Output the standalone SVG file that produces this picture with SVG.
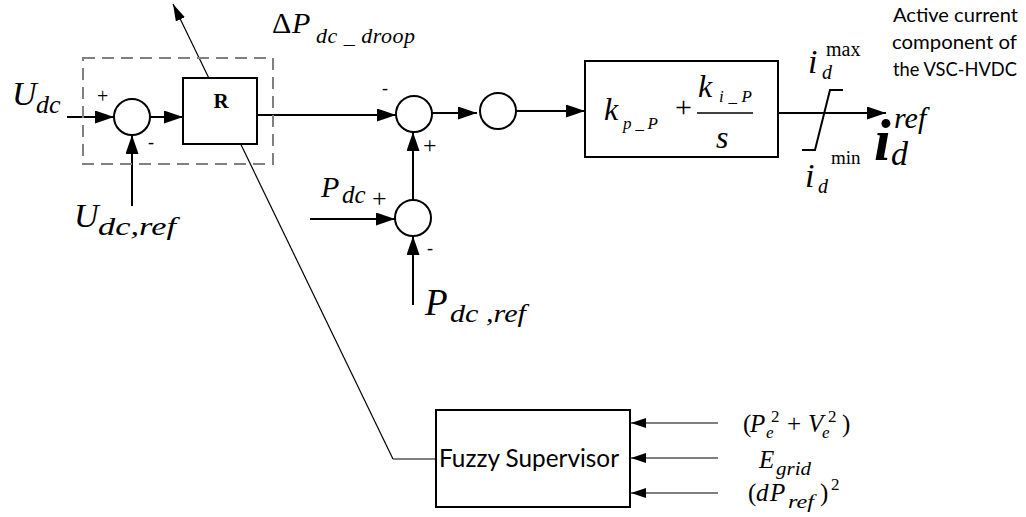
<svg xmlns="http://www.w3.org/2000/svg" width="1026" height="517" viewBox="0 0 1026 517">
<style>
.ln{stroke:#000;stroke-width:2;fill:none}
.thin{stroke:#000;stroke-width:1.2;fill:none}
.box{stroke:#000;stroke-width:2;fill:#fff}
.sum{stroke:#000;stroke-width:2;fill:#fff}
.m{font-family:"Liberation Serif",serif;font-style:italic;fill:#000}
.r{font-family:"Liberation Serif",serif;fill:#000}
.s{font-family:Lato,"Open Sans",sans-serif;fill:#000}
</style>
<defs>
<marker id="ah" markerWidth="19" markerHeight="13" refX="19" refY="6.5" orient="auto" markerUnits="userSpaceOnUse">
<path d="M0,0 L19,6.5 L0,13 Z" fill="#000"/>
</marker>
<marker id="ahs" markerWidth="15" markerHeight="10" refX="15" refY="5" orient="auto" markerUnits="userSpaceOnUse">
<path d="M0,0 L15,5 L0,10 Z" fill="#000"/>
</marker>
<marker id="ahu" markerWidth="17" markerHeight="10" refX="17" refY="5" orient="auto" markerUnits="userSpaceOnUse">
<path d="M0,0 L17,5 L0,10 Z" fill="#000"/>
</marker>
</defs>
<rect x="0" y="0" width="1026" height="517" fill="#fff"/>

<g id="connectors">
<line class="ln" x1="67" y1="117" x2="114" y2="117" marker-end="url(#ah)"/>
<line class="ln" x1="132" y1="206" x2="132" y2="135" marker-end="url(#ah)"/>
<line class="ln" x1="150" y1="117" x2="183" y2="117" marker-end="url(#ah)"/>
<line class="ln" x1="257" y1="115" x2="396" y2="115" marker-end="url(#ah)"/>
<line class="ln" x1="432" y1="113" x2="477" y2="113" marker-end="url(#ah)"/>
<line class="ln" x1="516" y1="111" x2="585" y2="111" marker-end="url(#ah)"/>
<line class="ln" x1="778" y1="113" x2="886" y2="113" marker-end="url(#ah)"/>
<line class="ln" x1="413" y1="200" x2="413" y2="132" marker-end="url(#ah)"/>
<line class="ln" x1="310" y1="219" x2="395" y2="219" marker-end="url(#ah)"/>
<line class="ln" x1="413" y1="305" x2="413" y2="236" marker-end="url(#ah)"/>
<line class="thin" x1="436" y1="459" x2="393" y2="459"/>
<line class="thin" x1="393" y1="459" x2="173" y2="4" marker-end="url(#ahu)"/>
<line class="thin" x1="718" y1="423" x2="631" y2="423" marker-end="url(#ahs)"/>
<line class="thin" x1="718" y1="458" x2="631" y2="458" marker-end="url(#ahs)"/>
<line class="thin" x1="718" y1="493" x2="631" y2="493" marker-end="url(#ahs)"/>
</g>

<g id="droop-group">
<rect x="83" y="58" width="190" height="106" fill="none" stroke="#808080" stroke-width="2" stroke-dasharray="12,7"/>
</g>

<g id="sum1">
<circle class="sum" cx="132" cy="117" r="18"/>
<text class="r" x="97" y="103" font-size="20">+</text>
<text class="r" x="148" y="148" font-size="18">-</text>
</g>

<g id="R">
<rect class="box" x="183" y="78" width="74" height="66"/>
<text class="r" x="221" y="108" font-size="21" font-weight="bold" text-anchor="middle">R</text>
</g>

<g id="sum2">
<circle class="sum" cx="414" cy="114" r="18"/>
<text class="r" x="382" y="94" font-size="18">-</text>
<text class="r" x="423" y="153" font-size="24">+</text>
</g>

<g id="sum3">
<circle class="sum" cx="413" cy="218" r="18"/>
<text class="r" x="427" y="254" font-size="18">-</text>
</g>

<g id="circle3">
<circle class="sum" cx="498" cy="111" r="18"/>
</g>

<g id="PI">
<rect class="box" x="585" y="61" width="193" height="96"/>
<text class="m" x="604" y="120" font-size="32">k</text>
<text class="m" x="623" y="129" font-size="17" textLength="35" lengthAdjust="spacing">p _ P</text>
<text class="r" x="675" y="117" font-size="30">+</text>
<text class="m" x="698" y="97" font-size="32">k</text>
<text class="m" x="719" y="102" font-size="17" textLength="33" lengthAdjust="spacing">i _ P</text>
<line x1="697" y1="113" x2="753" y2="113" stroke="#000" stroke-width="1.5"/>
<text class="m" x="716" y="148" font-size="32">s</text>
</g>

<g id="saturation">
<polyline class="ln" points="802,150 815,150 830,90 843,90"/>
<text class="m" x="808" y="73" font-size="34">i</text>
<text class="m" x="822" y="79" font-size="20">d</text>
<text class="r" x="826" y="56" font-size="20">max</text>
<text class="m" x="805" y="187" font-size="34">i</text>
<text class="m" x="818" y="193" font-size="20">d</text>
<text class="r" x="831" y="164" font-size="19">min</text>
</g>

<g id="output">
<text class="m" x="874" y="160" font-size="60" font-weight="bold">i</text>
<text class="m" x="891" y="165" font-size="34">d</text>
<text class="m" x="894" y="128" font-size="30">ref</text>
</g>

<g id="note">
<text class="s" x="893" y="22" font-size="19" textLength="125" lengthAdjust="spacingAndGlyphs">Active current</text>
<text class="s" x="892" y="49" font-size="19" textLength="125" lengthAdjust="spacingAndGlyphs">component of</text>
<text class="s" x="893" y="76" font-size="19" textLength="124" lengthAdjust="spacingAndGlyphs">the VSC-HVDC</text>
</g>

<g id="fuzzy">
<rect class="box" x="436" y="410" width="194" height="97"/>
<text class="s" x="439" y="467" font-size="25" textLength="180" lengthAdjust="spacingAndGlyphs">Fuzzy Supervisor</text>
</g>

<g id="labels">
<text class="m" x="12" y="105" font-size="34">U</text>
<text class="m" x="36" y="113" font-size="26">dc</text>
<text class="m" x="74" y="227" font-size="34">U</text>
<text class="m" x="98" y="235" font-size="26" textLength="78" lengthAdjust="spacingAndGlyphs">dc,ref</text>
<text class="r" x="272" y="33" font-size="30">Δ</text>
<text class="m" x="292" y="33" font-size="30">P</text>
<text class="m" x="316" y="43" font-size="22" textLength="99" lengthAdjust="spacing">dc _ droop</text>
<text class="m" x="321" y="197" font-size="30">P</text>
<text class="m" x="342" y="203" font-size="25">dc</text>
<text class="r" x="372" y="207" font-size="26">+</text>
<text class="m" x="425" y="315" font-size="37">P</text>
<text class="m" x="450" y="322" font-size="26" textLength="76" lengthAdjust="spacingAndGlyphs">dc ,ref</text>
<text class="r" x="743" y="432" font-size="25">(</text>
<text class="m" x="750" y="432" font-size="25">P</text>
<text class="m" x="766" y="438" font-size="17">e</text>
<text class="r" x="771" y="422" font-size="17">2</text>
<text class="r" x="787" y="432" font-size="25">+</text>
<text class="m" x="808" y="432" font-size="25">V</text>
<text class="m" x="822" y="438" font-size="17">e</text>
<text class="r" x="828" y="422" font-size="17">2</text>
<text class="r" x="842" y="432" font-size="25">)</text>
<text class="m" x="759" y="468" font-size="25">E</text>
<text class="m" x="776" y="475" font-size="18" textLength="35" lengthAdjust="spacingAndGlyphs">grid</text>
<text class="r" x="748" y="501" font-size="25">(</text>
<text class="m" x="756" y="501" font-size="25">d</text>
<text class="m" x="770" y="501" font-size="25">P</text>
<text class="m" x="788" y="508" font-size="18" textLength="26" lengthAdjust="spacingAndGlyphs">ref</text>
<text class="r" x="820" y="501" font-size="25">)</text>
<text class="r" x="831" y="490" font-size="17">2</text>
</g>
</svg>
